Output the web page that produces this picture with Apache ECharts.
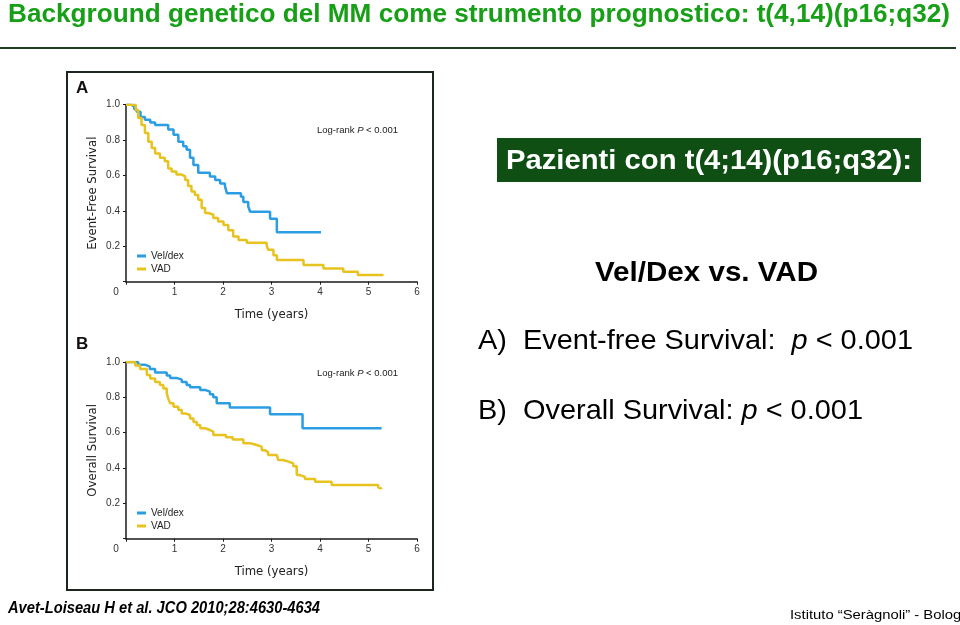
<!DOCTYPE html>
<html>
<head>
<meta charset="utf-8">
<script src="https://cdn.jsdelivr.net/npm/echarts@6/dist/echarts.min.js"></script>
<style>
html,body{margin:0;padding:0;background:#fff;}
#chart{width:960px;height:625px;}
</style>
</head>
<body>
<div id="chart"></div>
<script>
// ---- Data (Kaplan-Meier step values: time in years, survival after each step) ----
var xTicks = [0, 1, 2, 3, 4, 5, 6];
var yTicks = [0.2, 0.4, 0.6, 0.8, 1.0];

// Panel A: Event-Free Survival
var efsVelTime = [0, 0.10, 0.17, 0.22, 0.30, 0.39, 0.50, 0.60, 0.87, 0.98, 1.08, 1.18, 1.25, 1.32, 1.39, 1.49, 1.73, 1.84, 1.94, 2.04, 2.08, 2.37, 2.42, 2.52, 2.56, 2.97, 3.11, 4.02];
var efsVelSurv = [1.0, 0.99, 0.975, 0.96, 0.93, 0.915, 0.90, 0.885, 0.86, 0.83, 0.79, 0.765, 0.745, 0.70, 0.66, 0.615, 0.595, 0.575, 0.555, 0.54, 0.50, 0.48, 0.45, 0.425, 0.395, 0.355, 0.28, 0.28];
var efsVadTime = [0, 0.15, 0.20, 0.25, 0.32, 0.39, 0.46, 0.53, 0.60, 0.70, 0.80, 0.87, 0.94, 1.04, 1.15, 1.22, 1.28, 1.35, 1.42, 1.49, 1.56, 1.63, 1.70, 1.80, 1.90, 2.01, 2.11, 2.21, 2.32, 2.49, 2.90, 2.93, 3.04, 3.11, 3.66, 4.07, 4.48, 4.78, 5.31];
var efsVadSurv = [1.0, 1.0, 0.97, 0.925, 0.885, 0.84, 0.79, 0.755, 0.725, 0.70, 0.68, 0.64, 0.623, 0.605, 0.595, 0.575, 0.54, 0.51, 0.49, 0.463, 0.416, 0.388, 0.378, 0.36, 0.34, 0.32, 0.29, 0.255, 0.235, 0.22, 0.205, 0.18, 0.15, 0.122, 0.094, 0.075, 0.056, 0.038, 0.038];

// Panel B: Overall Survival
var osVelTime = [0, 0.25, 0.39, 0.49, 0.60, 0.84, 0.91, 1.04, 1.15, 1.25, 1.32, 1.53, 1.63, 1.73, 1.80, 1.87, 2.14, 2.97, 3.64, 5.27];
var osVelSurv = [1.0, 0.985, 0.974, 0.96, 0.94, 0.923, 0.91, 0.90, 0.887, 0.87, 0.857, 0.842, 0.832, 0.817, 0.80, 0.766, 0.743, 0.705, 0.625, 0.625];
var osVadTime = [0, 0.19, 0.29, 0.43, 0.50, 0.60, 0.70, 0.77, 0.84, 0.87, 0.91, 0.98, 1.08, 1.15, 1.22, 1.32, 1.39, 1.46, 1.53, 1.63, 1.73, 1.80, 2.06, 2.20, 2.42, 2.56, 2.70, 2.80, 2.87, 2.93, 3.11, 3.14, 3.24, 3.35, 3.45, 3.52, 3.59, 3.69, 3.90, 4.24, 5.20, 5.24, 5.26];
var osVadSurv = [1.0, 0.98, 0.96, 0.926, 0.906, 0.887, 0.87, 0.85, 0.823, 0.794, 0.766, 0.747, 0.728, 0.709, 0.70, 0.68, 0.66, 0.643, 0.625, 0.615, 0.606, 0.587, 0.574, 0.562, 0.54, 0.53, 0.52, 0.50, 0.49, 0.474, 0.464, 0.445, 0.436, 0.426, 0.41, 0.36, 0.35, 0.338, 0.323, 0.304, 0.29, 0.285, 0.28];

var seriesNames = ['Vel/dex', 'VAD'];
var titleText = 'Background genetico del MM come strumento prognostico: t(4,14)(p16;q32)';
var boxText = 'Pazienti con t(4;14)(p16;q32):';
var compareText = 'Vel/Dex vs. VAD';
var lineAText = 'A)  Event-free Survival:  ';
var lineBText = 'B)  Overall Survival: ';
var pText = ' < 0.001';
var citeText = 'Avet-Loiseau H et al. JCO 2010;28:4630-4634';
var instText = 'Istituto \u201cSer\u00e0gnoli\u201d - Bologna';

// ---- Helpers ----
function pairs(t, s) { return t.map(function (v, i) { return [v, s[i]]; }); }
var measureCtx = document.createElement('canvas').getContext('2d');
function textWidth(str, font) { measureCtx.font = font; return measureCtx.measureText(str).width; }
function fitScale(str, font, target) { return target / textWidth(str, font); }

var BLUE = '#2b9de2';
var YELLOW = '#e8c21e';
var AXIS = '#1a1a1a';
var COND = '"DejaVu Sans Condensed", "Liberation Sans", Arial, sans-serif';
var SANS = '"Liberation Sans", Arial, sans-serif';

function xAxisCfg(gi) {
  return {
    type: 'value', gridIndex: gi, min: 0, max: 6, interval: 1,
    name: 'Time (years)', nameLocation: 'middle', nameGap: 26,
    nameTextStyle: { fontFamily: COND, fontSize: 13, color: '#222' },
    axisLine: { show: true, lineStyle: { color: AXIS, width: 1.5 } },
    axisTick: { show: true, length: 3, lineStyle: { color: AXIS } },
    splitLine: { show: false },
    axisLabel: {
      fontFamily: SANS, fontSize: 10, color: '#333', margin: 6,
      formatter: function (v) { return v === 0 ? '{z|0}' : String(v); },
      rich: { z: { padding: [0, 20, 0, 0], fontSize: 10, fontFamily: SANS, color: '#333' } }
    }
  };
}
function yAxisCfg(gi, name) {
  return {
    type: 'value', gridIndex: gi, min: 0, max: 1, interval: 0.2,
    name: name, nameLocation: 'middle', nameGap: 27, nameRotate: 90,
    nameTextStyle: { fontFamily: COND, fontSize: 13, color: '#222' },
    axisLine: { show: true, lineStyle: { color: AXIS, width: 1.5 } },
    axisTick: { show: true, length: 3, lineStyle: { color: AXIS } },
    splitLine: { show: false },
    axisLabel: {
      fontFamily: SANS, fontSize: 10, color: '#333', margin: 6,
      formatter: function (v) { return v === 0 ? '' : v.toFixed(1); }
    }
  };
}
function kmSeries(name, xi, data, color) {
  return {
    type: 'line', name: name, xAxisIndex: xi, yAxisIndex: xi,
    data: data, step: 'end', showSymbol: false, symbol: 'none',
    lineStyle: { color: color, width: 2.5 }, itemStyle: { color: color },
    animation: false, z: 3
  };
}
function legendCfg(top) {
  return {
    data: seriesNames, orient: 'vertical', left: 137, top: top, padding: 0,
    itemWidth: 9, itemHeight: 3, itemGap: 3, icon: 'rect',
    textStyle: { fontFamily: SANS, fontSize: 10, color: '#222' }, selectedMode: false
  };
}

var titleFont = 'bold 26px "Liberation Sans"';
var titleScale = fitScale(titleText, titleFont, 942);
var citeFont = 'italic bold 16px "Liberation Sans"';
var citeScale = fitScale(citeText, citeFont, 312);
var instFont = '13px "Liberation Sans"';
var instScale = fitScale('Istituto \u201cSer\u00e0gnoli\u201d - Bolo', instFont, 163);
var boxFont = 'bold 28px "Liberation Sans"';
var boxScale = fitScale(boxText, boxFont, 406);
var cmpFont = 'bold 28px "Liberation Sans"';
var cmpScale = fitScale(compareText, cmpFont, 223);
var bodyFont = '28px "Liberation Sans"';
var lineAScale = 435 / (textWidth(lineAText + pText, bodyFont) + textWidth('p', 'italic ' + bodyFont));
var lineBScale = 385 / (textWidth(lineBText + pText, bodyFont) + textWidth('p', 'italic ' + bodyFont));

var option = {
  backgroundColor: '#ffffff',
  animation: false,
  grid: [
    { left: 126, top: 104.7, width: 291, height: 177 },
    { left: 126, top: 362, width: 291, height: 176.7 }
  ],
  xAxis: [xAxisCfg(0), xAxisCfg(1)],
  yAxis: [yAxisCfg(0, 'Event-Free Survival'), yAxisCfg(1, 'Overall Survival')],
  legend: [legendCfg(251), legendCfg(508)],
  series: [
    kmSeries(seriesNames[0], 0, pairs(efsVelTime, efsVelSurv), BLUE),
    kmSeries(seriesNames[1], 0, pairs(efsVadTime, efsVadSurv), YELLOW),
    kmSeries(seriesNames[0], 1, pairs(osVelTime, osVelSurv), BLUE),
    kmSeries(seriesNames[1], 1, pairs(osVadTime, osVadSurv), YELLOW)
  ],
  graphic: [
    { type: 'text', x: 8, y: 15, scaleX: titleScale, style: { text: titleText, fontFamily: SANS, fontWeight: 'bold', fontSize: 26, fill: '#17a017', verticalAlign: 'middle' } },
    { type: 'rect', shape: { x: 0, y: 47, width: 956, height: 2 }, style: { fill: '#1f3d1f' } },
    { type: 'rect', shape: { x: 67, y: 72, width: 366, height: 518 }, style: { fill: 'none', stroke: '#1c261c', lineWidth: 2 } },
    { type: 'text', x: 76, y: 80, style: { text: 'A', fontFamily: SANS, fontWeight: 'bold', fontSize: 17, fill: '#111' } },
    { type: 'text', x: 76, y: 336, style: { text: 'B', fontFamily: SANS, fontWeight: 'bold', fontSize: 17, fill: '#111' } },
    { type: 'text', x: 317, y: 125, style: { text: 'Log-rank {i|P} < 0.001', fontFamily: SANS, fontSize: 9.5, fill: '#222',
        rich: { i: { fontStyle: 'italic', fontFamily: SANS, fontSize: 9.5, fill: '#222' } } } },
    { type: 'text', x: 317, y: 368, style: { text: 'Log-rank {i|P} < 0.001', fontFamily: SANS, fontSize: 9.5, fill: '#222',
        rich: { i: { fontStyle: 'italic', fontFamily: SANS, fontSize: 9.5, fill: '#222' } } } },
    { type: 'rect', shape: { x: 497, y: 138, width: 424, height: 44 }, style: { fill: '#0f4f14' } },
    { type: 'text', x: 506, y: 161, scaleX: boxScale, style: { text: boxText, fontFamily: SANS, fontWeight: 'bold', fontSize: 28, fill: '#ffffff', verticalAlign: 'middle' } },
    { type: 'text', x: 595, y: 273, scaleX: cmpScale, style: { text: compareText, fontFamily: SANS, fontWeight: 'bold', fontSize: 28, fill: '#000', verticalAlign: 'middle' } },
    { type: 'text', x: 478, y: 341, scaleX: lineAScale, style: { text: lineAText + '{i|p}' + pText, fontFamily: SANS, fontSize: 28, fill: '#000', verticalAlign: 'middle',
        rich: { i: { fontStyle: 'italic', fontFamily: SANS, fontSize: 28, fill: '#000' } } } },
    { type: 'text', x: 478, y: 411, scaleX: lineBScale, style: { text: lineBText + '{i|p}' + pText, fontFamily: SANS, fontSize: 28, fill: '#000', verticalAlign: 'middle',
        rich: { i: { fontStyle: 'italic', fontFamily: SANS, fontSize: 28, fill: '#000' } } } },
    { type: 'text', x: 8, y: 609, scaleX: citeScale, style: { text: citeText, fontFamily: SANS, fontWeight: 'bold', fontStyle: 'italic', fontSize: 16, fill: '#000', verticalAlign: 'middle' } },
    { type: 'text', x: 790, y: 615, scaleX: instScale, style: { text: instText, fontFamily: SANS, fontSize: 13, fill: '#000', verticalAlign: 'middle' } }
  ]
};

var chart = echarts.init(document.getElementById('chart'), null, { renderer: 'canvas' });
chart.setOption(option);
</script>
</body>
</html>
